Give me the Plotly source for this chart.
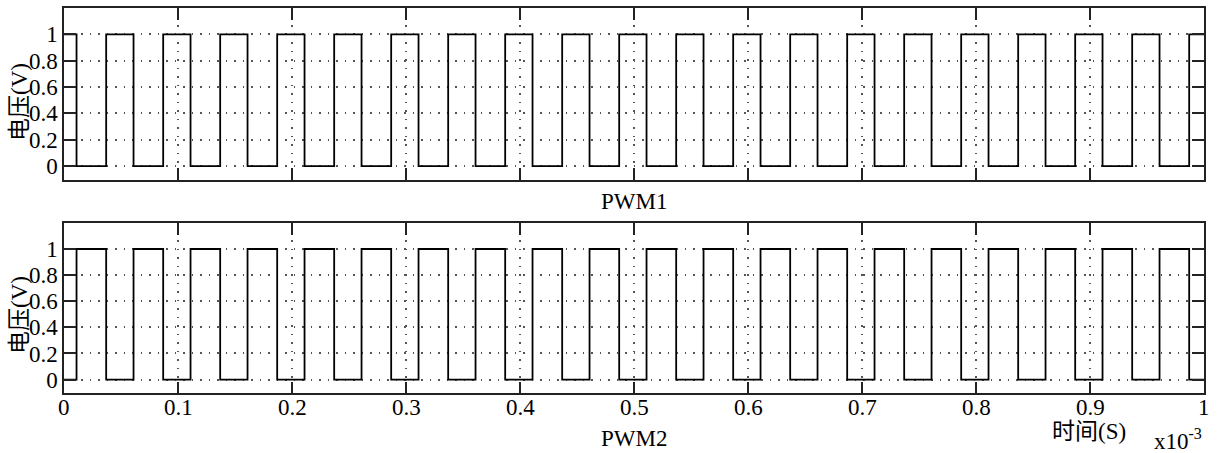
import plotly.graph_objects as go

# ---- data (time in units of 1e-3 s) ----
pwm1_fall = [0.011, 0.061, 0.111, 0.161, 0.211, 0.261, 0.311, 0.361, 0.411, 0.461,
             0.511, 0.561, 0.611, 0.661, 0.711, 0.761, 0.811, 0.861, 0.911, 0.961]
pwm1_rise = [0.037, 0.087, 0.137, 0.187, 0.237, 0.287, 0.337, 0.387, 0.437, 0.487,
             0.537, 0.587, 0.637, 0.687, 0.737, 0.787, 0.837, 0.887, 0.937, 0.987]
pwm1_start = 1
pwm2_start = 0
t_start = 0.0
t_end = 1.0

x_tickvals = [0, 0.1, 0.2, 0.3, 0.4, 0.5, 0.6, 0.7, 0.8, 0.9, 1]
x_ticktext = ["0", "0.1", "0.2", "0.3", "0.4", "0.5", "0.6", "0.7", "0.8", "0.9", "1"]
y_tickvals = [0, 0.2, 0.4, 0.6, 0.8, 1]
y_ticktext = ["0", "0.2", "0.4", "0.6", "0.8", "1"]

ylabel = "电压(V)"
xlabel = "时间(S)"
titles = ["PWM1", "PWM2"]


def build_steps(start_level, switches):
    xs = [t_start]
    ys = [start_level]
    lvl = start_level
    for s in sorted(switches):
        lvl = 1 - lvl
        xs.append(s)
        ys.append(lvl)
    xs.append(t_end)
    ys.append(lvl)
    return xs, ys


x1, y1 = build_steps(pwm1_start, pwm1_fall + pwm1_rise)
x2, y2 = build_steps(pwm2_start, pwm1_fall + pwm1_rise)

W, H = 1217, 453
serif = "Liberation Serif, Noto Sans CJK SC"
FS = 23

fig = go.Figure()
fig.add_trace(go.Scatter(x=x1, y=y1, mode="lines", line=dict(color="black", width=1.8, shape="hv"),
                         xaxis="x", yaxis="y", showlegend=False, hoverinfo="skip"))
fig.add_trace(go.Scatter(x=x2, y=y2, mode="lines", line=dict(color="black", width=1.8, shape="hv"),
                         xaxis="x2", yaxis="y2", showlegend=False, hoverinfo="skip"))

xd = [64 / W, 1204 / W]
top_dom = [1 - 180 / H, 1 - 8.3 / H]
bot_dom = [1 - 393.3 / H, 1 - 223.3 / H]

common_axis = dict(
    showline=True, linecolor="#222", linewidth=1.5, mirror="allticks",
    ticks="inside", ticklen=12, tickwidth=1.5, tickcolor="#222",
    showgrid=True, gridcolor="#555", gridwidth=1.5, griddash="1.5px,7px",
    zeroline=False, tickfont=dict(family=serif, size=FS, color="black"),
    fixedrange=True,
)

fig.update_layout(
    width=W, height=H,
    margin=dict(l=0, r=0, t=0, b=0),
    paper_bgcolor="white", plot_bgcolor="white",
    xaxis=dict(domain=xd, range=[0, 1], tickvals=x_tickvals, ticktext=x_ticktext,
               showticklabels=False, anchor="y", **common_axis),
    yaxis=dict(domain=top_dom, range=[-0.105, 1.197], tickvals=y_tickvals, ticktext=y_ticktext,
               anchor="x", **common_axis),
    xaxis2=dict(domain=xd, range=[0, 1], tickvals=x_tickvals, ticktext=x_ticktext,
                showticklabels=False, anchor="y2", **common_axis),
    yaxis2=dict(domain=bot_dom, range=[-0.105, 1.197], tickvals=y_tickvals, ticktext=y_ticktext,
                anchor="x2", **common_axis),
)

fnt = dict(family=serif, size=FS, color="black")

# x tick labels of the lower axis, placed on the axis' own scale
for v, t in zip(x_tickvals, x_ticktext):
    fig.add_annotation(xref="x2", yref="paper", x=v, y=1 - 407 / H, text=t, showarrow=False,
                       xanchor="center", yanchor="middle", font=fnt, borderpad=0)

ann = [
    dict(x=19 / W, y=1 - 102 / H, text=ylabel, textangle=-90),
    dict(x=19 / W, y=1 - 315 / H, text=ylabel, textangle=-90),
    dict(x=634 / W, y=1 - 201 / H, text=titles[0]),
    dict(x=634 / W, y=1 - 438 / H, text=titles[1]),
    dict(x=1089 / W, y=1 - 431 / H, text=xlabel),
]
for a in ann:
    fig.add_annotation(xref="paper", yref="paper", showarrow=False, xanchor="center",
                       yanchor="middle", font=fnt, borderpad=0, **a)
fig.add_annotation(xref="paper", yref="paper", x=1203 / W, y=1 - 439 / H, showarrow=False,
                   xanchor="right", yanchor="middle", text="x10<sup>-3</sup>", font=fnt, borderpad=0)

fig.write_html("out.html")
